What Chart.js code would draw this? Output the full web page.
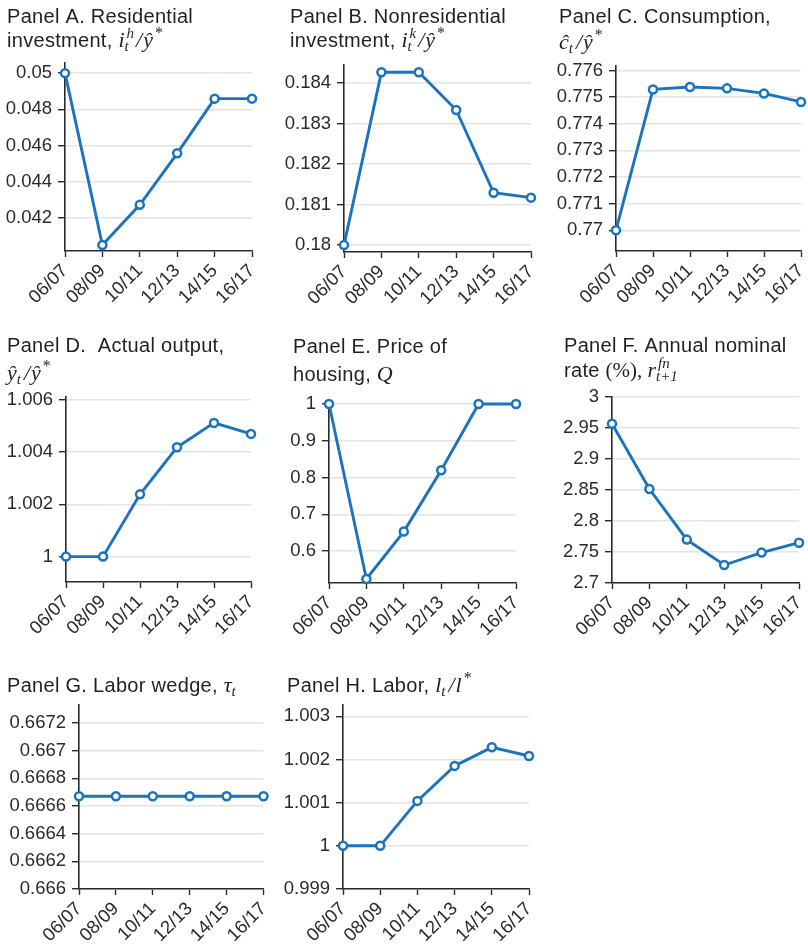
<!DOCTYPE html>
<html>
<head>
<meta charset="utf-8">
<script src="https://cdn.jsdelivr.net/npm/chart.js@4.4.1/dist/chart.umd.min.js"></script>
<style>
  html, body { margin: 0; padding: 0; background: #fff; }
  #fig { position: relative; width: 808px; height: 948px; overflow: hidden; }
  #fig canvas { position: absolute; }
</style>
</head>
<body>
<div id="fig"></div>
<script>
// Two-year periods on the horizontal axis
const categories = ['06/07', '08/09', '10/11', '12/13', '14/15', '16/17'];

// Panel A: residential investment
const residentialInvestment = [0.05, 0.0405, 0.04272, 0.04557, 0.04859, 0.04859];
const residentialTicks = [0.042, 0.044, 0.046, 0.048, 0.05];
const residentialTickLabels = ['0.042', '0.044', '0.046', '0.048', '0.05'];

// Panel B: nonresidential investment
const nonresidentialInvestment = [0.18, 0.18426, 0.18426, 0.18333, 0.18129, 0.18117];
const nonresidentialTicks = [0.18, 0.181, 0.182, 0.183, 0.184];
const nonresidentialTickLabels = ['0.18', '0.181', '0.182', '0.183', '0.184'];

// Panel C: consumption
const consumption = [0.77, 0.77529, 0.77538, 0.77533, 0.77514, 0.77482];
const consumptionTicks = [0.77, 0.771, 0.772, 0.773, 0.774, 0.775, 0.776];
const consumptionTickLabels = ['0.77', '0.771', '0.772', '0.773', '0.774', '0.775', '0.776'];

// Panel D: actual output
const actualOutput = [1, 1, 1.00238, 1.00418, 1.00511, 1.00469];
const outputTicks = [1, 1.002, 1.004, 1.006];
const outputTickLabels = ['1', '1.002', '1.004', '1.006'];

// Panel E: price of housing
const housingPrice = [1, 0.524, 0.653, 0.82, 1, 1];
const housingTicks = [0.6, 0.7, 0.8, 0.9, 1];
const housingTickLabels = ['0.6', '0.7', '0.8', '0.9', '1'];

// Panel F: annual nominal rate (%)
const nominalRate = [2.957, 2.8516, 2.77, 2.729, 2.749, 2.765];
const rateTicks = [2.7, 2.75, 2.8, 2.85, 2.9, 2.95, 3];
const rateTickLabels = ['2.7', '2.75', '2.8', '2.85', '2.9', '2.95', '3'];

// Panel G: labor wedge
const laborWedge = [0.66667, 0.66667, 0.66667, 0.66667, 0.66667, 0.66667];
const wedgeTicks = [0.666, 0.6662, 0.6664, 0.6666, 0.6668, 0.667, 0.6672];
const wedgeTickLabels = ['0.666', '0.6662', '0.6664', '0.6666', '0.6668', '0.667', '0.6672'];

// Panel H: labor
const labor = [1, 1, 1.00104, 1.00185, 1.00228, 1.00208];
const laborTicks = [0.999, 1, 1.001, 1.002, 1.003];
const laborTickLabels = ['0.999', '1', '1.001', '1.002', '1.003'];

// ---- styling ----
const LINE_BLUE = '#1b72bd';
const AXIS_DARK = '#2a2a2a';
const GRID_LIGHT = '#e4e4e4';
const TEXT_DARK = '#231f20';
const SANS = '"Liberation Sans", Arial, sans-serif';
const SERIF = '"Liberation Serif", "Times New Roman", serif';
const TICK_SIZE = 18.5;
const TICK_TRACKING = '0px';
const TITLE_FONT = '20px ' + SANS;
const TITLE_TRACKING = '0.3px';
const MATH_FONT = 'italic 22px ' + SERIF;
const UPRIGHT_FONT = '21px ' + SERIF;
const SCRIPT_FONT = 'italic 15px ' + SERIF;
const STAR_FONT = '16px ' + SERIF;

// Title pieces: {t, f} runs; {sup, sub} stacked scripts
const T = (t) => ({ t, f: 'sans' });
const M = (t) => ({ t, f: 'math' });
const U = (t) => ({ t, f: 'upright' });
const S = (sup, sub) => ({ sup, sub });

// Cell rect, plot rect (page coords), axis range, titles
const panels = [
  { cell: [0, 0, 270, 320], plot: [65, 63, 252, 251], min: 0.04017, max: 0.05056,
    data: residentialInvestment, ticks: residentialTicks, tickLabels: residentialTickLabels,
    title: [
      { x: 7, y: 23, segs: [T('Panel A. Residential')] },
      { x: 7, y: 47, segs: [T('investment, '), M('i'), S('h', 't'), M('/'), M('\u0177'), S('*', null)] }
    ] },
  { cell: [270, 0, 540, 320], plot: [344, 65, 531, 252], min: 0.17983, max: 0.18444,
    data: nonresidentialInvestment, ticks: nonresidentialTicks, tickLabels: nonresidentialTickLabels,
    title: [
      { x: 290, y: 23, segs: [T('Panel B. Nonresidential')] },
      { x: 290, y: 47, segs: [T('investment, '), M('i'), S('k', 't'), M('/'), M('\u0177'), S('*', null)] }
    ] },
  { cell: [540, 0, 808, 320], plot: [616, 66, 801, 251], min: 0.76922, max: 0.77617,
    data: consumption, ticks: consumptionTicks, tickLabels: consumptionTickLabels,
    title: [
      { x: 559, y: 23, segs: [T('Panel C. Consumption,')] },
      { x: 559, y: 49, segs: [M('\u0109'), S(null, 't'), M('/'), M('\u0177'), S('*', null)] }
    ] },
  { cell: [0, 320, 270, 640], plot: [66, 397, 251, 582], min: 0.99903, max: 1.0061,
    data: actualOutput, ticks: outputTicks, tickLabels: outputTickLabels,
    title: [
      { x: 7, y: 352, segs: [T('Panel D.  Actual output,')] },
      { x: 7, y: 380, segs: [M('\u0177'), S(null, 't'), M('/'), M('\u0177'), S('*', null)] }
    ] },
  { cell: [270, 320, 540, 640], plot: [329, 400, 516, 583], min: 0.513, max: 1.011,
    data: housingPrice, ticks: housingTicks, tickLabels: housingTickLabels,
    title: [
      { x: 293, y: 353, segs: [T('Panel E. Price of')] },
      { x: 293, y: 381, segs: [T('housing, '), M('Q')] }
    ] },
  { cell: [540, 320, 808, 640], plot: [612, 397, 799, 583], min: 2.7, max: 3.0,
    data: nominalRate, ticks: rateTicks, tickLabels: rateTickLabels,
    title: [
      { x: 564, y: 352, segs: [T('Panel F. Annual nominal')] },
      { x: 564, y: 377, segs: [T('rate '), U('(%), '), M('r'), S('fn', 't+1')] }
    ] },
  { cell: [0, 640, 270, 948], plot: [79, 705, 266, 889], min: 0.666, max: 0.66733,
    data: laborWedge, ticks: wedgeTicks, tickLabels: wedgeTickLabels,
    title: [
      { x: 7, y: 692, segs: [T('Panel G. Labor wedge, '), M('\u03c4'), S(null, 't')] }
    ] },
  { cell: [270, 640, 540, 948], plot: [343, 705, 529, 889], min: 0.999, max: 1.00326,
    data: labor, ticks: laborTicks, tickLabels: laborTickLabels,
    title: [
      { x: 287, y: 692, segs: [T('Panel H. Labor, '), M('l'), S(null, 't'), M('/'), M('l'), S('*', null)] }
    ] }
];

// Draws a mixed text/math line with alphabetic baseline at (x, y)
function drawRichLine(ctx, x, y, segs) {
  let cx = x;
  ctx.textBaseline = 'alphabetic';
  ctx.textAlign = 'left';
  ctx.fillStyle = TEXT_DARK;
  for (const s of segs) {
    if (s.t !== undefined) {
      if (s.f === 'sans') { ctx.font = TITLE_FONT; ctx.letterSpacing = TITLE_TRACKING; }
      else if (s.f === 'math') { ctx.font = MATH_FONT; ctx.letterSpacing = '0px'; }
      else { ctx.font = UPRIGHT_FONT; ctx.letterSpacing = '0px'; }
      ctx.fillText(s.t, cx, y);
      cx += ctx.measureText(s.t).width + (s.f === 'math' ? 1 : 0);
    } else {
      ctx.letterSpacing = '0px';
      let w = 0;
      if (s.sup) {
        ctx.font = s.sup === '*' ? STAR_FONT : SCRIPT_FONT;
        ctx.fillText(s.sup, cx + 1, y - 9);
        w = Math.max(w, ctx.measureText(s.sup).width + 1);
      }
      if (s.sub) {
        ctx.font = SCRIPT_FONT;
        ctx.fillText(s.sub, cx - 1, y + 4);
        w = Math.max(w, ctx.measureText(s.sub).width);
      }
      cx += w + 2;
    }
  }
}

const titlePlugin = {
  id: 'panelTitle',
  afterDraw(chart, args, opts) {
    const ctx = chart.ctx;
    ctx.save();
    for (const line of opts.lines) {
      drawRichLine(ctx, line.x - opts.ox, line.y - opts.oy, line.segs);
    }
    ctx.restore();
  }
};

const trackingPlugin = {
  id: 'tickTracking',
  beforeDraw(chart) { chart.ctx.letterSpacing = TICK_TRACKING; }
};

const fig = document.getElementById('fig');

panels.forEach((p) => {
  const [cl, ct, cr, cb] = p.cell;
  const [pl, pt, pr, pb] = p.plot;
  const canvas = document.createElement('canvas');
  canvas.width = cr - cl;
  canvas.height = cb - ct;
  canvas.style.left = cl + 'px';
  canvas.style.top = ct + 'px';
  canvas.style.width = (cr - cl) + 'px';
  canvas.style.height = (cb - ct) + 'px';
  fig.appendChild(canvas);

  const labelFor = new Map(p.ticks.map((v, i) => [v, p.tickLabels[i]]));

  new Chart(canvas, {
    type: 'line',
    data: {
      labels: categories,
      datasets: [{
        data: p.data,
        borderColor: LINE_BLUE,
        borderWidth: 2.9,
        pointRadius: 4,
        pointBorderWidth: 2.5,
        pointBackgroundColor: '#ffffff',
        pointBorderColor: LINE_BLUE,
        tension: 0,
        clip: false
      }]
    },
    options: {
      responsive: false,
      animation: false,
      devicePixelRatio: 1,
      layout: { padding: { left: 0, top: pt - ct, right: cr - pr, bottom: 0 } },
      plugins: {
        legend: { display: false },
        tooltip: { enabled: false },
        panelTitle: { lines: p.title, ox: cl, oy: ct }
      },
      scales: {
        x: {
          type: 'category',
          offset: false,
          border: { display: true, color: AXIS_DARK, width: 1.6 },
          grid: { display: true, drawOnChartArea: false, drawTicks: true, tickLength: 6, tickColor: AXIS_DARK, tickWidth: 1.4 },
          ticks: {
            autoSkip: false, minRotation: 45, maxRotation: 45, padding: 3,
            color: AXIS_DARK, font: { family: SANS, size: TICK_SIZE }
          },
          afterFit(s) { s.height = cb - pb; s.paddingLeft = 0; s.paddingRight = 0; }
        },
        y: {
          type: 'linear',
          min: p.min,
          max: p.max,
          border: { display: true, color: AXIS_DARK, width: 1.6 },
          grid: { display: true, color: GRID_LIGHT, lineWidth: 1.4, drawTicks: true, tickLength: 7, tickColor: AXIS_DARK, tickWidth: 1.4 },
          afterBuildTicks(s) { s.ticks = p.ticks.map((v) => ({ value: v })); },
          ticks: {
            padding: 6,
            color: AXIS_DARK,
            font: { family: SANS, size: TICK_SIZE },
            callback: (v) => labelFor.has(v) ? labelFor.get(v) : ''
          },
          afterFit(s) { s.width = pl - cl; s.paddingTop = 0; s.paddingBottom = 0; }
        }
      }
    },
    plugins: [trackingPlugin, titlePlugin]
  });
});
</script>
</body>
</html>
